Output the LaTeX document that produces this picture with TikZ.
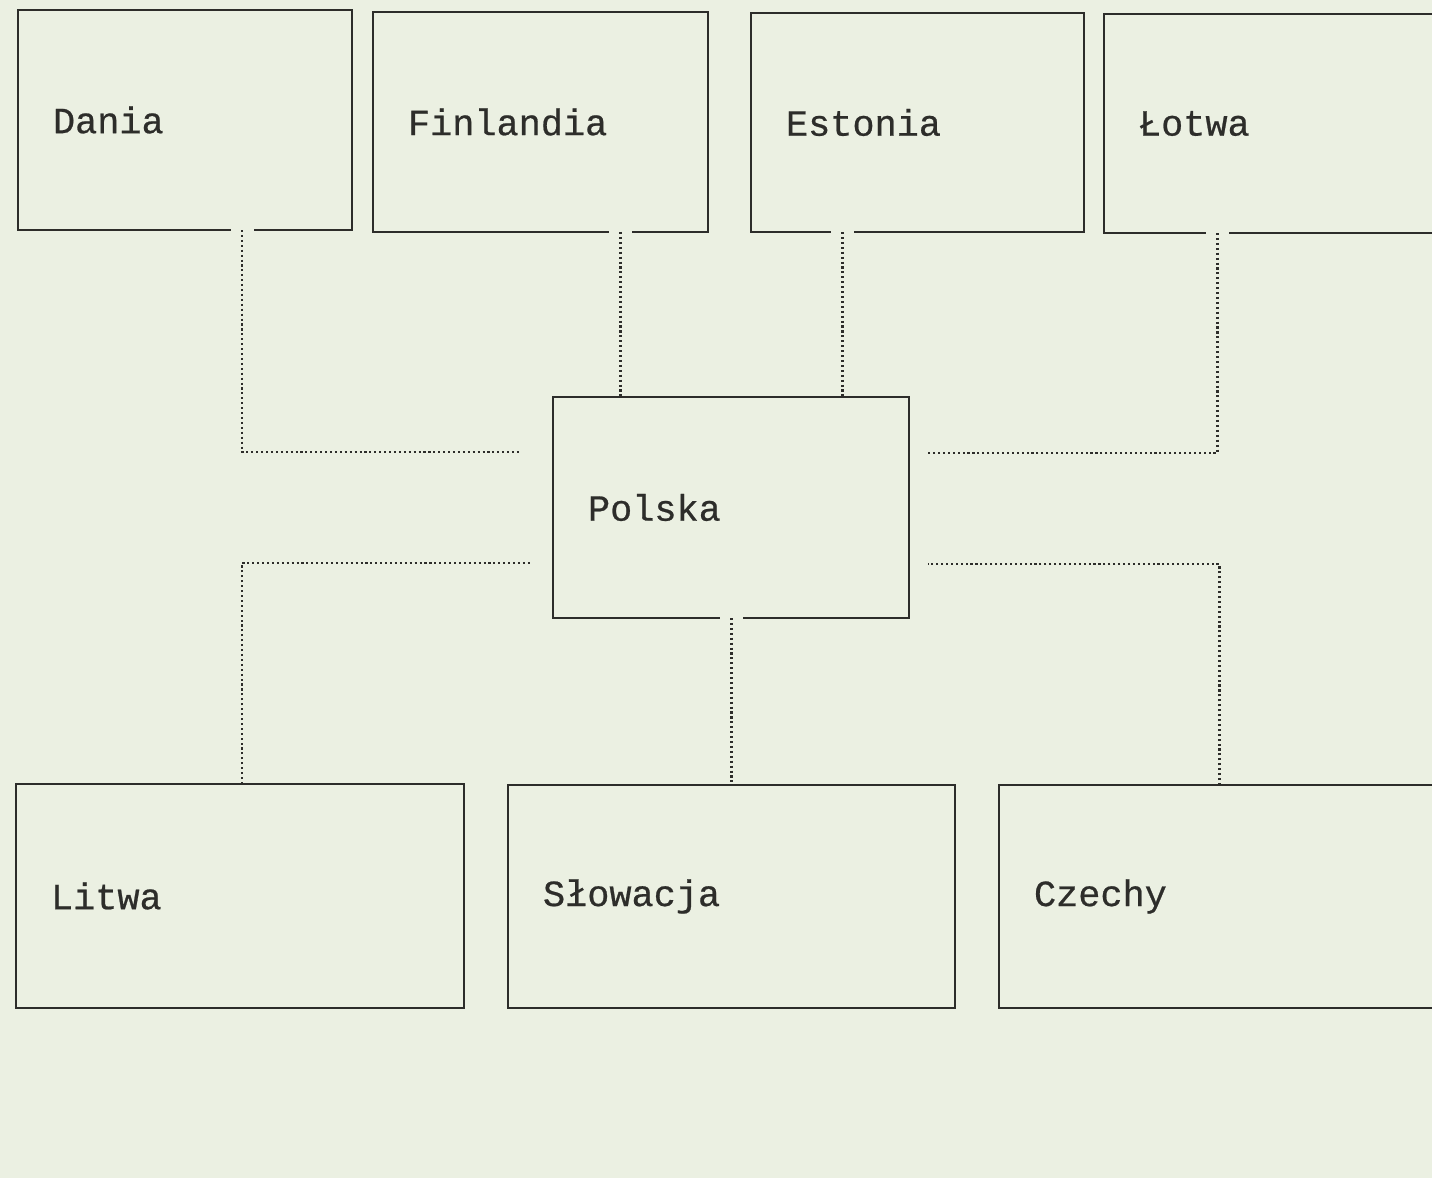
\documentclass[tikz,border=0pt]{standalone}
\usepackage{fontspec}
\newfontfamily\maszyna[FakeBold=0.6]{Liberation Mono}
\usepackage{tikz}
\definecolor{papier}{RGB}{235,240,226}
\definecolor{tusz}{RGB}{45,45,42}

\begin{document}
\begin{tikzpicture}[
	kraj/.style={draw=tusz, line width=0.6pt, minimum height=2.2cm, inner xsep=0.35cm, outer sep=0pt, align=left, anchor=north west, font=\maszyna\fontsize{10.5}{12}\selectfont, text=tusz},
	laczenie/.style={draw=tusz, line width=0.85pt, dash pattern=on 0.6pt off 0.8pt},
	przerwa/.style={draw=papier, line width=2pt}]
	\fill[papier] (0,0) rectangle (14.32,-11.78);
	\useasboundingbox (0,0) rectangle (14.32,-11.78);
	\clip (0,0) rectangle (14.32,-11.78);
	% gorny rzad
	\node[kraj, text width=2.64cm] (dania) at (0.18,-0.10) {Dania};
	\node[kraj, text width=2.65cm] (finlandia) at (3.73,-0.12) {Finlandia};
	\node[kraj, text width=2.63cm, minimum height=2.19cm] (estonia) at (7.51,-0.13) {Estonia};
	\node[kraj, text width=2.63cm, minimum height=2.19cm] (lotwa) at (11.04,-0.14) {Łotwa};
	% srodek
	\node[kraj, text width=2.86cm, minimum height=2.21cm] (polska) at (5.53,-3.97) {Polska};
	% dolny rzad
	\node[kraj, text width=3.78cm, minimum height=2.24cm] (litwa) at (0.16,-7.84) {Litwa};
	\node[kraj, text width=3.77cm, minimum height=2.23cm] (slowacja) at (5.08,-7.85) {Słowacja};
	\node[kraj, text width=3.77cm, minimum height=2.23cm] (czechy) at (9.99,-7.85) {Czechy};
	% poczatki polaczen
	\coordinate (dania-d) at ([xshift=5.7mm]dania.south);
	\coordinate (finlandia-d) at ([xshift=7.95mm]finlandia.south);
	\coordinate (estonia-d) at ([xshift=-7.55mm]estonia.south);
	\coordinate (lotwa-d) at ([xshift=-5.35mm]lotwa.south);
	\coordinate (polska-d) at (polska.south);
	\foreach \p in {dania-d, finlandia-d, estonia-d, lotwa-d, polska-d}
		\draw[przerwa] ([xshift=-1.15mm]\p) -- ([xshift=1.15mm]\p);
	% polaczenia
	\draw[laczenie] (dania-d) |- ([xshift=-3.3mm,yshift=5.55mm]polska.west);
	\draw[laczenie] (finlandia-d) -- (finlandia-d |- polska.north);
	\draw[laczenie] (estonia-d) -- (estonia-d |- polska.north);
	\draw[laczenie] (lotwa-d) |- ([xshift=1.9mm,yshift=5.45mm]polska.east);
	\draw[laczenie] (polska-d) -- (polska-d |- slowacja.north);
	\draw[laczenie] ([xshift=0.2mm]litwa.north) |- ([xshift=-2.2mm,yshift=-5.55mm]polska.west);
	\draw[laczenie] ([xshift=-0.35mm]czechy.north) |- ([xshift=1.9mm,yshift=-5.65mm]polska.east);
\end{tikzpicture}
\end{document}
